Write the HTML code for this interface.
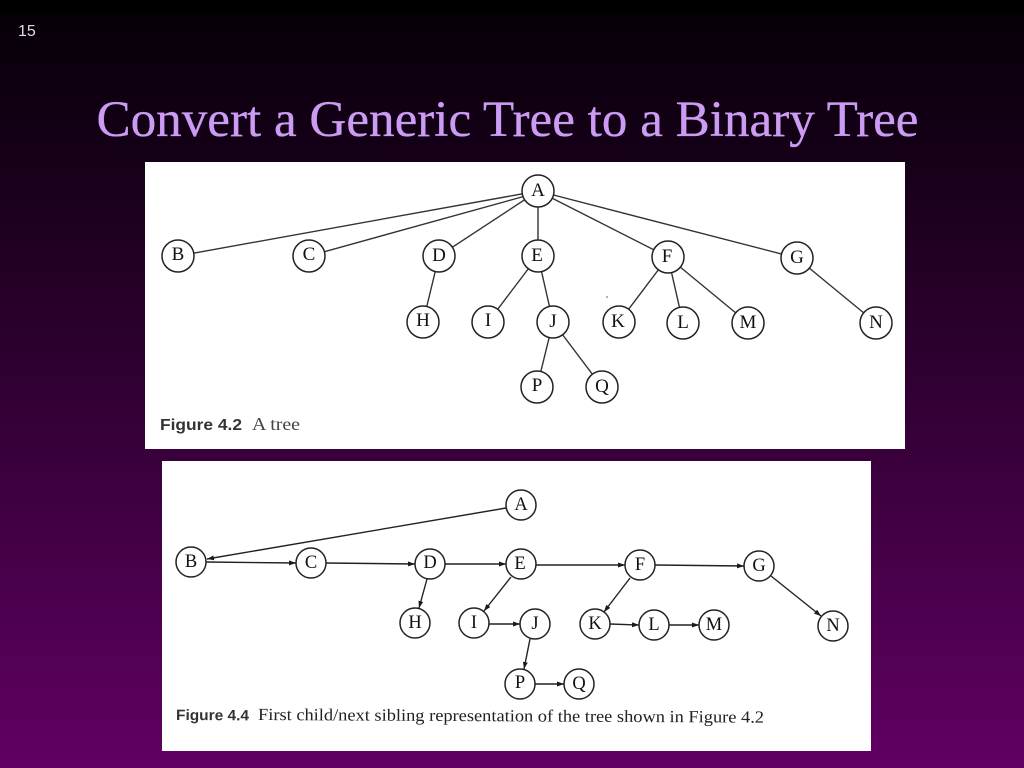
<!DOCTYPE html>
<html>
<head>
<meta charset="utf-8">
<style>
html,body{margin:0;padding:0;width:1024px;height:768px;overflow:hidden;background:#000}
svg{display:block}
</style>
</head>
<body>
<svg xmlns="http://www.w3.org/2000/svg" width="1024" height="768" viewBox="0 0 1024 768">
<defs>
<linearGradient id="bg" x1="0" y1="0" x2="0" y2="1">
<stop offset="0" stop-color="#040006"/>
<stop offset="0.5" stop-color="#300032"/>
<stop offset="1" stop-color="#610063"/>
</linearGradient>
<marker id="ah" markerUnits="userSpaceOnUse" markerWidth="8" markerHeight="6" refX="7" refY="2.500" orient="auto">
<path d="M0 0L7 2.500L0 5Z" fill="#1a1a1a"/>
</marker>
<style>
.n{fill:#fff;stroke:#222;stroke-width:1.5}
.l{stroke:#333;stroke-width:1.4;fill:none}
.a{stroke:#222;stroke-width:1.4;fill:none;marker-end:url(#ah)}
.t{font-family:"Liberation Serif",serif;font-size:19px;fill:#111;text-anchor:middle}
.u{font-family:"Liberation Serif",serif;font-size:18.500px;fill:#111;text-anchor:middle}
</style>
</defs>
<rect x="0" y="0" width="1024" height="768" fill="url(#bg)"/>
<rect x="0" y="0" width="1024" height="15" fill="#000"/>
<text x="18" y="36" font-family="'Liberation Sans',sans-serif" font-size="16" fill="#dddddd">15</text>
<text x="507.500" y="136" text-anchor="middle" font-family="'Liberation Serif',serif" font-size="51" fill="#cc9cf5" stroke="#cc9cf5" stroke-width="0.3" textLength="822" lengthAdjust="spacingAndGlyphs">Convert a Generic Tree to a Binary Tree</text>

<rect x="145" y="162" width="760" height="287" fill="#fff"/>
<circle cx="607" cy="297" r="1" fill="#999"/>
<g class="edges">
<line class="l" x1="538" y1="191" x2="178" y2="256"/>
<line class="l" x1="538" y1="192.500" x2="309" y2="256"/>
<line class="l" x1="538" y1="191" x2="439" y2="256"/>
<line class="l" x1="538" y1="191" x2="538" y2="256"/>
<line class="l" x1="538" y1="191" x2="668" y2="257"/>
<line class="l" x1="538" y1="191" x2="797" y2="258"/>
<line class="l" x1="439" y1="256" x2="423" y2="322"/>
<line class="l" x1="538" y1="256" x2="488" y2="322"/>
<line class="l" x1="538" y1="256" x2="553" y2="322"/>
<line class="l" x1="553" y1="322" x2="537" y2="387"/>
<line class="l" x1="553" y1="322" x2="602" y2="387"/>
<line class="l" x1="668" y1="257" x2="619" y2="322"/>
<line class="l" x1="668" y1="257" x2="683" y2="323"/>
<line class="l" x1="668" y1="257" x2="748" y2="323"/>
<line class="l" x1="797" y1="258" x2="876" y2="323"/>
</g>
<g>
<circle class="n" cx="538" cy="191" r="16"/><text class="t" x="538" y="196">A</text>
<circle class="n" cx="178" cy="256" r="16"/><text class="t" x="178" y="260">B</text>
<circle class="n" cx="309" cy="256" r="16"/><text class="t" x="309" y="260">C</text>
<circle class="n" cx="439" cy="256" r="16"/><text class="t" x="439" y="261">D</text>
<circle class="n" cx="538" cy="256" r="16"/><text class="t" x="537" y="261">E</text>
<circle class="n" cx="668" cy="257" r="16"/><text class="t" x="667" y="262">F</text>
<circle class="n" cx="797" cy="258" r="16"/><text class="t" x="797" y="263">G</text>
<circle class="n" cx="423" cy="322" r="16"/><text class="t" x="423" y="326">H</text>
<circle class="n" cx="488" cy="322" r="16"/><text class="t" x="488" y="326">I</text>
<circle class="n" cx="553" cy="322" r="16"/><text class="t" x="553" y="327">J</text>
<circle class="n" cx="619" cy="322" r="16"/><text class="t" x="618" y="327">K</text>
<circle class="n" cx="683" cy="323" r="16"/><text class="t" x="683" y="328">L</text>
<circle class="n" cx="748" cy="323" r="16"/><text class="t" x="748" y="328">M</text>
<circle class="n" cx="876" cy="323" r="16"/><text class="t" x="876" y="328">N</text>
<circle class="n" cx="537" cy="387" r="16"/><text class="t" x="537" y="391">P</text>
<circle class="n" cx="602" cy="387" r="16" stroke-width="1.800"/><text class="t" x="602" y="392">Q</text>
</g>
<text x="160" y="430" font-family="'Liberation Sans',sans-serif" font-size="16" font-weight="bold" fill="#333" textLength="82" lengthAdjust="spacingAndGlyphs">Figure 4.2</text>
<text x="252" y="430" font-family="'Liberation Serif',serif" font-size="18" fill="#444" textLength="48" lengthAdjust="spacingAndGlyphs">A tree</text>

<rect x="162" y="461" width="709" height="290" fill="#fff"/>
<g>
<line class="a" x1="506" y1="508" x2="207" y2="559"/>
<line class="a" x1="206" y1="562" x2="296" y2="563" stroke-width="1.800"/>
<line class="a" x1="326" y1="563" x2="415" y2="564"/>
<line class="a" x1="445" y1="564" x2="506" y2="564"/>
<line class="a" x1="536" y1="565" x2="625" y2="565"/>
<line class="a" x1="655" y1="565" x2="744" y2="566" stroke-width="1.800"/>
<line class="a" x1="427" y1="579" x2="419" y2="608"/>
<line class="a" x1="511" y1="577" x2="484" y2="611"/>
<line class="a" x1="489" y1="624" x2="520" y2="624"/>
<line class="a" x1="530" y1="639" x2="524" y2="669"/>
<line class="a" x1="535" y1="684" x2="564" y2="684"/>
<line class="a" x1="630" y1="578" x2="604" y2="612"/>
<line class="a" x1="610" y1="624" x2="639" y2="625"/>
<line class="a" x1="669" y1="625" x2="699" y2="625"/>
<line class="a" x1="771" y1="576" x2="821" y2="616"/>
</g>
<g>
<circle class="n" cx="521" cy="505" r="15"/><text class="u" x="521" y="510">A</text>
<circle class="n" cx="191" cy="562" r="15"/><text class="u" x="191" y="567">B</text>
<circle class="n" cx="311" cy="563" r="15"/><text class="u" x="311" y="568">C</text>
<circle class="n" cx="430" cy="564" r="15"/><text class="u" x="430" y="568">D</text>
<circle class="n" cx="521" cy="564" r="15"/><text class="u" x="520" y="569">E</text>
<circle class="n" cx="640" cy="565" r="15"/><text class="u" x="640" y="570">F</text>
<circle class="n" cx="759" cy="566" r="15"/><text class="u" x="759" y="571">G</text>
<circle class="n" cx="415" cy="623" r="15"/><text class="u" x="415" y="628">H</text>
<circle class="n" cx="474" cy="623" r="15"/><text class="u" x="474" y="628">I</text>
<circle class="n" cx="535" cy="624" r="15"/><text class="u" x="535" y="629">J</text>
<circle class="n" cx="595" cy="624" r="15"/><text class="u" x="595" y="629">K</text>
<circle class="n" cx="654" cy="625" r="15"/><text class="u" x="654" y="630">L</text>
<circle class="n" cx="714" cy="625" r="15"/><text class="u" x="714" y="630">M</text>
<circle class="n" cx="833" cy="626" r="15"/><text class="u" x="833" y="631">N</text>
<circle class="n" cx="520" cy="684" r="15"/><text class="u" x="520" y="688">P</text>
<circle class="n" cx="579" cy="684" r="15"/><text class="u" x="579" y="689">Q</text>
</g>
<text x="176" y="720" font-family="'Liberation Sans',sans-serif" font-size="15" font-weight="bold" fill="#333" textLength="73" lengthAdjust="spacingAndGlyphs" transform="rotate(0.3 176 720)">Figure 4.4</text>
<text x="258" y="720" font-family="'Liberation Serif',serif" font-size="17" fill="#222" textLength="506" lengthAdjust="spacingAndGlyphs" transform="rotate(0.3 258 720)">First child/next sibling representation of the tree shown in Figure 4.2</text>
</svg>
</body>
</html>
